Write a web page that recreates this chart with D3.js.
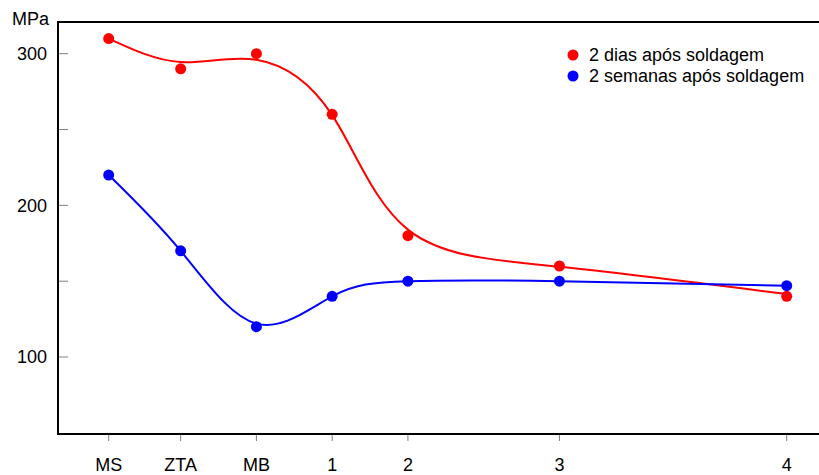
<!DOCTYPE html>
<html>
<head>
<meta charset="utf-8">
<script src="https://cdn.jsdelivr.net/npm/d3@7"></script>
<style>
  body { margin: 0; background: #fff; }
  svg text { font-family: "Liberation Sans", Arial, sans-serif; font-size: 18px; fill: #000; }
</style>
</head>
<body>
<div id="chart"></div>
<script>
// Chart Data
const categories = ["MS", "ZTA", "MB", "1", "2", "3", "4"];
const xPos = [0.05, 1, 2, 3, 4, 6, 9]; // position of each category on the x axis
const seriesNames = ["2 dias após soldagem", "2 semanas após soldagem"];
const dias = [310, 290, 300, 260, 180, 160, 140]; // measured points, 2 days
const semanas = [220, 170, 120, 140, 150, 150, 147]; // measured points, 2 weeks
// smoothed curve values drawn through the points
const diasFit = [310, 294.5, 296, 259.5, 184, 159.5, 141.5];
const semanasFit = [220, 170, 122, 140, 150, 150, 147];
const yTicks = [100, 150, 200, 250, 300];
const yLabels = [100, 200, 300];

const colors = ["#ff0000", "#0000ff"];

// Dimensions
const W = 819, H = 475;
const box = {left: 58, top: 22, right: 840, bottom: 434};

const svg = d3.select("#chart")
  .append("svg")
    .attr("width", W)
    .attr("height", H);

// Scales
const x = d3.scaleLinear().domain([0, 9]).range([104.9, 786.7]);
const y = d3.scaleLinear().domain([100, 300]).range([357, 53.7]);

// Y ticks (pointing inward)
svg.append("g")
  .selectAll("line")
  .data(yTicks)
  .join("line")
    .attr("x1", box.left).attr("x2", box.left + 10)
    .attr("y1", d => y(d)).attr("y2", d => y(d))
    .attr("stroke", "#808080").attr("stroke-width", 1);

svg.append("g")
  .selectAll("text")
  .data(yLabels)
  .join("text")
    .attr("x", 47)
    .attr("y", d => y(d))
    .attr("dy", "0.35em")
    .attr("text-anchor", "end")
    .text(d => d);

// X ticks (pointing outward)
svg.append("g")
  .selectAll("line")
  .data(xPos)
  .join("line")
    .attr("x1", d => x(d)).attr("x2", d => x(d))
    .attr("y1", box.bottom).attr("y2", box.bottom + 7)
    .attr("stroke", "#808080").attr("stroke-width", 1);

svg.append("g")
  .selectAll("text")
  .data(categories)
  .join("text")
    .attr("x", (d, i) => x(xPos[i]))
    .attr("y", 471)
    .attr("text-anchor", "middle")
    .text(d => d);

// Frame
svg.append("rect")
  .attr("x", box.left).attr("y", box.top)
  .attr("width", box.right - box.left).attr("height", box.bottom - box.top)
  .attr("fill", "none").attr("stroke", "#000").attr("stroke-width", 2);

// Unit label
svg.append("text").attr("x", 12).attr("y", 25).text("MPa");

// Curves and points
const line = d3.line()
  .x((d, i) => x(xPos[i]))
  .y(d => y(d))
  .curve(d3.curveNatural);

[[diasFit, dias], [semanasFit, semanas]].forEach(([fit, pts], k) => {
  svg.append("path")
    .datum(fit)
    .attr("d", line)
    .attr("fill", "none")
    .attr("stroke", colors[k])
    .attr("stroke-width", 2);

  svg.append("g")
    .selectAll("circle")
    .data(pts)
    .join("circle")
      .attr("cx", (d, i) => x(xPos[i]))
      .attr("cy", d => y(d))
      .attr("r", 5.5)
      .attr("fill", colors[k]);
});

// Legend
const legend = svg.append("g");
seriesNames.forEach((name, k) => {
  legend.append("circle")
    .attr("cx", 573).attr("cy", 55 + k * 21)
    .attr("r", 5.5).attr("fill", colors[k]);
  legend.append("text")
    .attr("x", 589).attr("y", 61 + k * 21)
    .text(name);
});
</script>
</body>
</html>
